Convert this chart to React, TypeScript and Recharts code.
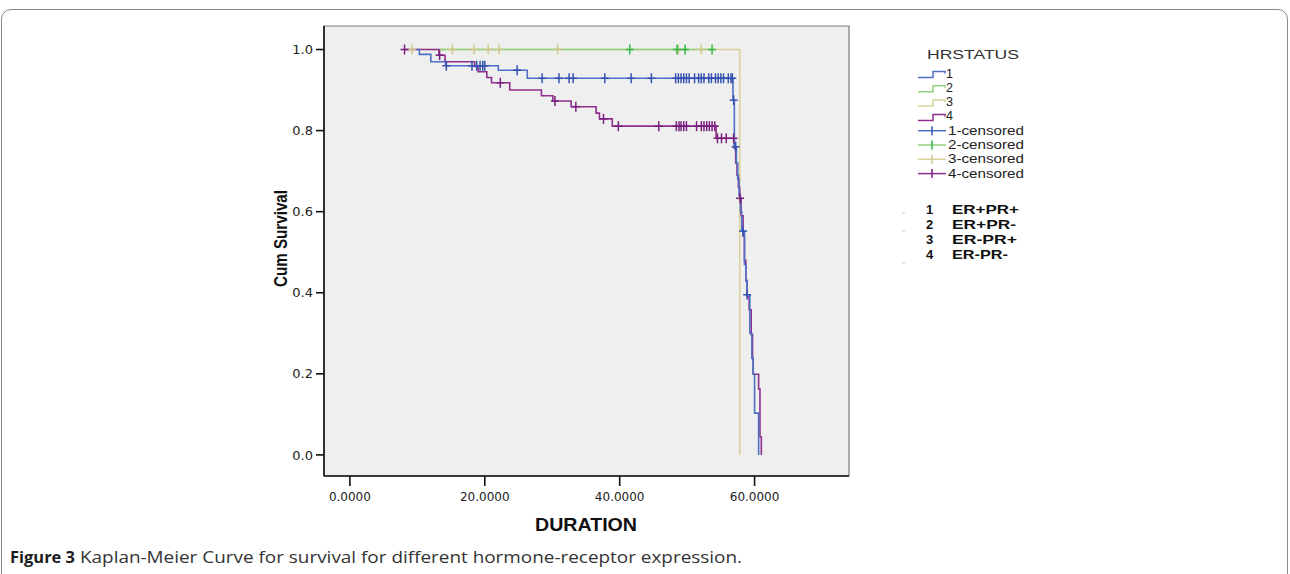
import React from 'react';
import { ComposedChart, Line, Scatter, XAxis, YAxis, CartesianGrid, ReferenceArea } from 'recharts';

// Kaplan-Meier steps: time (DURATION) and cumulative survival
const g1Time = [9.9, 10.3, 12.0, 14.2, 22.0, 26.3, 56.8, 57.0, 57.3, 57.5, 57.7, 57.9, 58.1, 58.5, 58.7, 58.9, 59.3, 59.6, 59.8, 60.0, 60.6];
const g1Surv = [1.0, 0.988, 0.97, 0.96, 0.949, 0.929, 0.875, 0.76, 0.72, 0.68, 0.64, 0.6, 0.552, 0.47, 0.43, 0.395, 0.3, 0.238, 0.199, 0.103, 0];
const g1Censor = [14.3, 18.1, 18.8, 19.3, 19.7, 20.0, 24.8, 28.5, 31.0, 32.5, 33.1, 37.8, 41.7, 44.7, 48.3, 48.7, 49.1, 49.5, 49.9, 50.3, 51.1, 51.7, 52.1, 52.5, 53.2, 53.6, 54.2, 54.6, 55.0, 55.4, 56.1, 56.5, 56.7, 56.9, 57.2, 58.3, 58.9];

const g2Time = [13.3, 53.7];
const g2Surv = [1.0, 1.0];
const g2Censor = [41.5, 48.5, 49.7, 53.7];

const g3Time = [9.2, 57.8];
const g3Surv = [1.0, 0];
const g3Censor = [9.2, 15.2, 18.4, 20.5, 22.1, 30.8, 48.7, 52.1];

const g4Time = [8.1, 13.2, 14.1, 18.5, 19.0, 20.3, 21.0, 23.7, 28.4, 30.1, 32.8, 36.5, 37.0, 38.9, 54.3, 57.0, 57.2, 57.4, 57.6, 57.8, 58.0, 58.3, 58.5, 58.7, 58.9, 59.2, 59.5, 59.7, 59.8, 60.6, 60.8, 61.0];
const g4Surv = [1.0, 0.986, 0.97, 0.958, 0.945, 0.931, 0.918, 0.9, 0.886, 0.873, 0.859, 0.843, 0.829, 0.811, 0.781, 0.756, 0.72, 0.69, 0.66, 0.633, 0.59, 0.54, 0.48, 0.43, 0.39, 0.358, 0.296, 0.239, 0.199, 0.163, 0.045, 0];
const g4Censor = [8.1, 13.3, 22.3, 30.4, 33.5, 37.6, 39.8, 45.8, 48.4, 48.8, 49.1, 49.5, 49.9, 51.4, 52.1, 52.5, 52.9, 53.3, 53.7, 54.1, 54.5, 55.1, 55.8, 56.9, 57.85];

const groupCodes = ['1', '2', '3', '4'];
const groupLabels = ['ER+PR+', 'ER+PR-', 'ER-PR+', 'ER-PR-'];
const xTicks = [0, 20, 40, 60];
const yTicks = [0, 0.2, 0.4, 0.6, 0.8, 1.0];

const X_MIN = -3.84;
const X_MAX = 74;
const Y_MIN = -0.052;
const Y_MAX = 1.058;

const lineColors = ['#4f6fc4', '#8fd07a', '#d8d39c', '#8e2f8e'];
const markColors = ['#3552b0', '#33b844', '#cfc98c', '#7a1f7e'];

const toSteps = (time: number[], surv: number[]) => time.map((t, i) => ({ t, s: surv[i] }));

// survival level at a censored time = level of the step curve there
const survAt = (time: number[], surv: number[], t: number) => {
  let s = surv[0];
  for (let i = 0; i < time.length; i++) if (time[i] <= t) s = surv[i];
  return s;
};
const toMarks = (censor: number[], time: number[], surv: number[]) =>
  censor.map((t) => ({ t, s: survAt(time, surv, t) }));

const steps = [toSteps(g1Time, g1Surv), toSteps(g2Time, g2Surv), toSteps(g3Time, g3Surv), toSteps(g4Time, g4Surv)];
const marks = [
  toMarks(g1Censor, g1Time, g1Surv),
  toMarks(g2Censor, g2Time, g2Surv),
  toMarks(g3Censor, g3Time, g3Surv),
  toMarks(g4Censor, g4Time, g4Surv),
];

const crossShape = (color: string) => (props: any) => {
  const { cx, cy } = props;
  if (cx == null || cy == null) return <g />;
  return (
    <g>
      <line x1={cx - 4} x2={cx + 4} y1={cy} y2={cy} stroke={color} strokeWidth={1.5} />
      <line x1={cx} x2={cx} y1={cy - 5} y2={cy + 5} stroke={color} strokeWidth={1.5} />
    </g>
  );
};

// draw order: yellow under green, purple under blue
const drawOrder = [2, 1, 3, 0];

const tickFont = { fontFamily: 'DejaVu Sans', fill: '#222' };

export default function App() {
  const legendY = [77.5, 91.8, 106.1, 120.4];
  const censY = [134.7, 149, 163.3, 177.6];
  const codeY = [214, 229, 244, 259];
  const codeLen = [67, 64, 65, 56];

  return (
    <div style={{ position: 'absolute', left: 0, top: 0, width: 1290, height: 574, overflow: 'hidden', background: '#fff' }}>
      <div
        style={{
          position: 'absolute',
          left: 1,
          top: 9,
          width: 1287,
          height: 640,
          boxSizing: 'border-box',
          border: '1px solid #8a8a8a',
          borderRadius: 10,
        }}
      />
      <div style={{ position: 'absolute', left: 0, top: 0 }}>
        <ComposedChart width={1290} height={574} margin={{ top: 26, right: 441, bottom: 58, left: 264 }}>
          <CartesianGrid fill="#efefef" horizontal={false} vertical={false} />
          <ReferenceArea x1={X_MIN} x2={X_MAX} y1={Y_MIN} y2={Y_MAX} fill="none" stroke="#7a7a7a" strokeWidth={1.2} />
          <XAxis
            type="number"
            dataKey="t"
            domain={[X_MIN, X_MAX]}
            allowDataOverflow
            ticks={xTicks}
            tickFormatter={(v: number) => v.toFixed(4)}
            height={40}
            tickSize={10}
            tickMargin={6}
            axisLine={{ stroke: '#111', strokeWidth: 1.6 }}
            tickLine={{ stroke: '#111', strokeWidth: 1.6 }}
            tick={{ ...tickFont, fontSize: 12 }}
          />
          <YAxis
            type="number"
            dataKey="s"
            domain={[Y_MIN, Y_MAX]}
            allowDataOverflow
            ticks={yTicks}
            tickFormatter={(v: number) => v.toFixed(1)}
            width={60}
            tickSize={8}
            tickMargin={3}
            axisLine={{ stroke: '#111', strokeWidth: 1.6 }}
            tickLine={{ stroke: '#111', strokeWidth: 1.6 }}
            tick={{ ...tickFont, fontSize: 13 }}
          />
          {drawOrder.map((g) => (
            <Line
              key={'line' + g}
              data={steps[g]}
              dataKey="s"
              type="stepAfter"
              stroke={lineColors[g]}
              strokeWidth={1.6}
              dot={false}
              activeDot={false}
              isAnimationActive={false}
            />
          ))}
          {drawOrder.map((g) => (
            <Scatter
              key={'mark' + g}
              data={marks[g]}
              dataKey="s"
              shape={crossShape(markColors[g])}
              isAnimationActive={false}
            />
          ))}
        </ComposedChart>
      </div>
      <svg width={1290} height={574} style={{ position: 'absolute', left: 0, top: 0, pointerEvents: 'none' }}>
        <text
          transform="translate(287,238.5) rotate(-90)"
          textAnchor="middle"
          fontFamily="Liberation Sans"
          fontWeight="bold"
          fontSize={19}
          textLength={97}
          lengthAdjust="spacingAndGlyphs"
          fill="#111"
        >
          Cum Survival
        </text>
        <text x={535} y={531} fontFamily="Liberation Sans" fontWeight="bold" fontSize={19} textLength={102} lengthAdjust="spacingAndGlyphs" fill="#111">
          DURATION
        </text>

        <text x={927} y={58.5} fontFamily="Liberation Sans" fontSize={13} textLength={92} lengthAdjust="spacingAndGlyphs" fill="#333">
          HRSTATUS
        </text>
        {groupCodes.map((c, i) => (
          <g key={'leg' + i}>
            <path
              d={`M918 ${legendY[i]} H933 V${legendY[i] - 6} H945 V${legendY[i] - 4}`}
              fill="none"
              stroke={lineColors[i]}
              strokeWidth={1.5}
            />
            <text x={946} y={legendY[i]} fontFamily="Liberation Sans" fontSize={12} textLength={7} lengthAdjust="spacingAndGlyphs" fill="#222">
              {c}
            </text>
          </g>
        ))}
        {groupCodes.map((c, i) => (
          <g key={'cen' + i}>
            <line x1={918} x2={946} y1={censY[i] - 4} y2={censY[i] - 4} stroke={lineColors[i]} strokeWidth={1.5} />
            <line x1={932} x2={932} y1={censY[i] - 8.5} y2={censY[i] + 0.5} stroke={markColors[i]} strokeWidth={1.5} />
            <text x={948} y={censY[i]} fontFamily="Liberation Sans" fontSize={12} textLength={76} lengthAdjust="spacingAndGlyphs" fill="#222">
              {c + '-censored'}
            </text>
          </g>
        ))}
        {groupCodes.map((c, i) => (
          <g key={'code' + i}>
            {i !== 2 && <line x1={902} x2={905} y1={i === 3 ? 263 : codeY[i] - 1 + i * 3} y2={i === 3 ? 263 : codeY[i] - 1 + i * 3} stroke="#c8c8c8" strokeWidth={1} />}
            <text x={926} y={codeY[i]} fontFamily="Liberation Sans" fontWeight="bold" fontSize={13} fill="#111">
              {c}
            </text>
            <text x={952} y={codeY[i]} fontFamily="Liberation Sans" fontWeight="bold" fontSize={13} textLength={codeLen[i]} lengthAdjust="spacingAndGlyphs" fill="#111">
              {groupLabels[i]}
            </text>
          </g>
        ))}

        <text x={10} y={563} fontFamily="Open Sans" fontWeight="bold" fontSize={16} textLength={65} lengthAdjust="spacingAndGlyphs" fill="#1c1c1c">
          Figure 3
        </text>
        <text x={80} y={563} fontFamily="Open Sans" fontSize={16} textLength={662} lengthAdjust="spacingAndGlyphs" fill="#333">
          Kaplan-Meier Curve for survival for different hormone-receptor expression.
        </text>
      </svg>
    </div>
  );
}
